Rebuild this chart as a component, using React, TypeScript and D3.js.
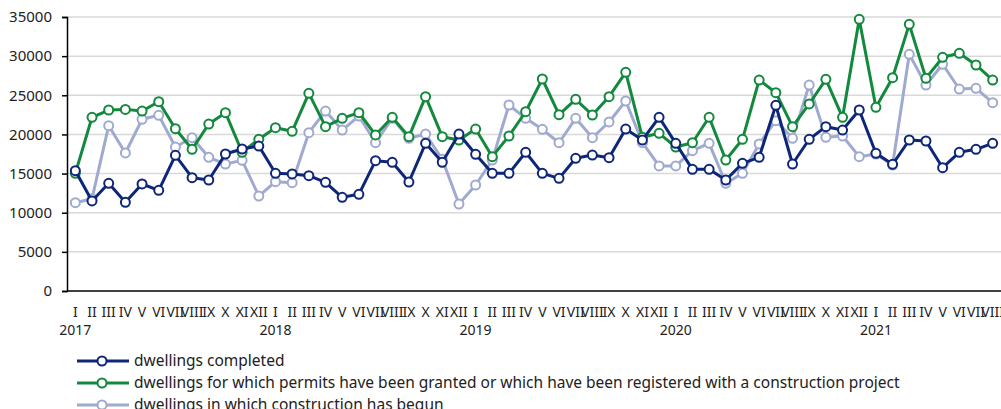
import React, { useEffect, useRef } from 'react';
import * as d3 from 'd3';

const years = ['2017', '2018', '2019', '2020', '2021'];
const monthNames = ['I', 'II', 'III', 'IV', 'V', 'VI', 'VII', 'VIII', 'IX', 'X', 'XI', 'XII'];

// dwellings completed, Jan 2017 - Aug 2021
const completed = [
  15370, 11500, 13760, 11330, 13670, 12860, 17330, 14470, 14180, 17500, 18140, 18520,
  15030, 14950, 14730, 13880, 11970, 12350, 16650, 16440, 13920, 18860, 16440, 20050,
  17460, 15030, 15030, 17720, 15030, 14390, 16950, 17370, 17030, 20690, 19290, 22190,
  18860, 15540, 15540, 14180, 16310, 17080, 23720, 16220, 19380, 20990, 20560, 23120,
  17590, 16180, 19290, 19160, 15750, 17720, 18100, 18860
];

// permits granted or registered with a construction project
const permits = [
  15030, 22190, 23120, 23200, 22990, 24180, 20730, 18100, 21330, 22780, 17720, 19380,
  20860, 20400, 25250, 20990, 22060, 22780, 19930, 22190, 19710, 24820, 19710, 19290,
  20690, 17160, 19800, 22900, 27080, 22520, 24480, 22480, 24820, 27930, 19630, 20140,
  18390, 18940, 22190, 16730, 19380, 26950, 25330, 20990, 23890, 27040, 22190, 34700,
  23460, 27250, 34060, 27170, 29850, 30360, 28870, 26950
];

// dwellings in which construction has begun
const begun = [
  11280, 11790, 21120, 17630, 21930, 22440, 18390, 19580, 17080, 16220, 16690, 12130,
  13960, 13830, 20220, 22990, 20560, 22350, 18940, 22060, 19500, 20050, 16820, 11110,
  13540, 16730, 23760, 22060, 20650, 18940, 22060, 19580, 21590, 24270, 18940, 15970,
  15970, 17920, 18860, 13760, 15030, 18780, 21760, 19500, 26310, 19630, 19800, 17160,
  17500, 16090, 30230, 26310, 28960, 25800, 25890, 24050
];

const yTicks = [0, 5000, 10000, 15000, 20000, 25000, 30000, 35000];

const seriesNames = [
  'dwellings completed',
  'dwellings for which permits have been granted or which have been registered with a construction project',
  'dwellings in which construction has begun'
];

export default function App() {
  const ref = useRef<SVGSVGElement>(null);

  useEffect(() => {
    const svg = d3.select(ref.current);
    svg.selectAll('*').remove();

    const margin = { top: 17, left: 67, right: 0 };
    const width = 1001, plotBottom = 291;
    const font = "'Noto Sans', sans-serif";

    const idx = d3.range(completed.length);
    const x = d3.scaleBand<number>().domain(idx).range([margin.left, width - margin.right]);
    const cx = (i: number) => x(i)! + x.bandwidth() / 2;
    const y = d3.scaleLinear().domain([0, 35000]).range([plotBottom, margin.top]);

    // grid
    svg.append('g').selectAll('line').data(yTicks.slice(1)).enter().append('line')
      .attr('x1', margin.left).attr('x2', width)
      .attr('y1', d => y(d)).attr('y2', d => y(d))
      .attr('stroke', '#d9d9d9').attr('stroke-width', 1.5);

    // y axis
    const yAxis = d3.axisLeft(y).tickValues(yTicks).tickSize(5).tickPadding(10).tickFormat(d => String(d));
    const gy = svg.append('g').attr('transform', `translate(${margin.left},0)`).call(yAxis);
    gy.select('.domain').attr('stroke', '#000').attr('stroke-width', 1.5);
    gy.selectAll('.tick line').attr('stroke', '#000').attr('stroke-width', 1.5);
    gy.selectAll('text').attr('font-family', font).attr('font-size', 15).attr('fill', '#222');

    // x axis line
    svg.append('line').attr('x1', margin.left).attr('x2', width)
      .attr('y1', plotBottom).attr('y2', plotBottom)
      .attr('stroke', '#000').attr('stroke-width', 1.5);

    // month labels
    svg.append('g').selectAll('text').data(idx).enter().append('text')
      .attr('x', d => cx(d)).attr('y', 317)
      .attr('text-anchor', 'middle')
      .attr('font-family', font).attr('font-size', 14).attr('fill', '#222')
      .text(d => monthNames[d % 12]);

    // year labels
    svg.append('g').selectAll('text').data(years).enter().append('text')
      .attr('x', (d, i) => cx(i * 12)).attr('y', 335)
      .attr('text-anchor', 'middle')
      .attr('font-family', font).attr('font-size', 14).attr('fill', '#222')
      .text(d => d);

    const series = [
      { data: completed, color: '#0d2679' },
      { data: permits, color: '#12893d' },
      { data: begun, color: '#a0aad0' }
    ];

    const line = d3.line<number>().x((d, i) => cx(i)).y(d => y(d));

    // draw in order: begun, permits, completed on top
    [2, 1, 0].forEach(k => {
      const s = series[k];
      const g = svg.append('g');
      g.append('path').datum(s.data).attr('d', line)
        .attr('fill', 'none').attr('stroke', s.color).attr('stroke-width', 3)
        .attr('stroke-linejoin', 'round');
      g.selectAll('circle').data(s.data).enter().append('circle')
        .attr('cx', (d, i) => cx(i)).attr('cy', d => y(d)).attr('r', 4.5)
        .attr('fill', '#fff').attr('stroke', s.color).attr('stroke-width', 2);
    });

    // legend
    const legend = svg.append('g');
    series.forEach((s, k) => {
      const ly = 361 + k * 22;
      legend.append('line').attr('x1', 77).attr('x2', 129).attr('y1', ly).attr('y2', ly)
        .attr('stroke', s.color).attr('stroke-width', 3);
      legend.append('circle').attr('cx', 102).attr('cy', ly).attr('r', 4.5)
        .attr('fill', '#fff').attr('stroke', s.color).attr('stroke-width', 2);
      legend.append('text').attr('x', 134).attr('y', ly + 5)
        .attr('font-family', font).attr('font-size', 15.5).attr('fill', '#222')
        .text(seriesNames[k]);
    });
  }, []);

  return (
    <svg ref={ref} width={1001} height={409}
      style={{ position: 'absolute', top: 0, left: 0, background: '#fff' }} />
  );
}
